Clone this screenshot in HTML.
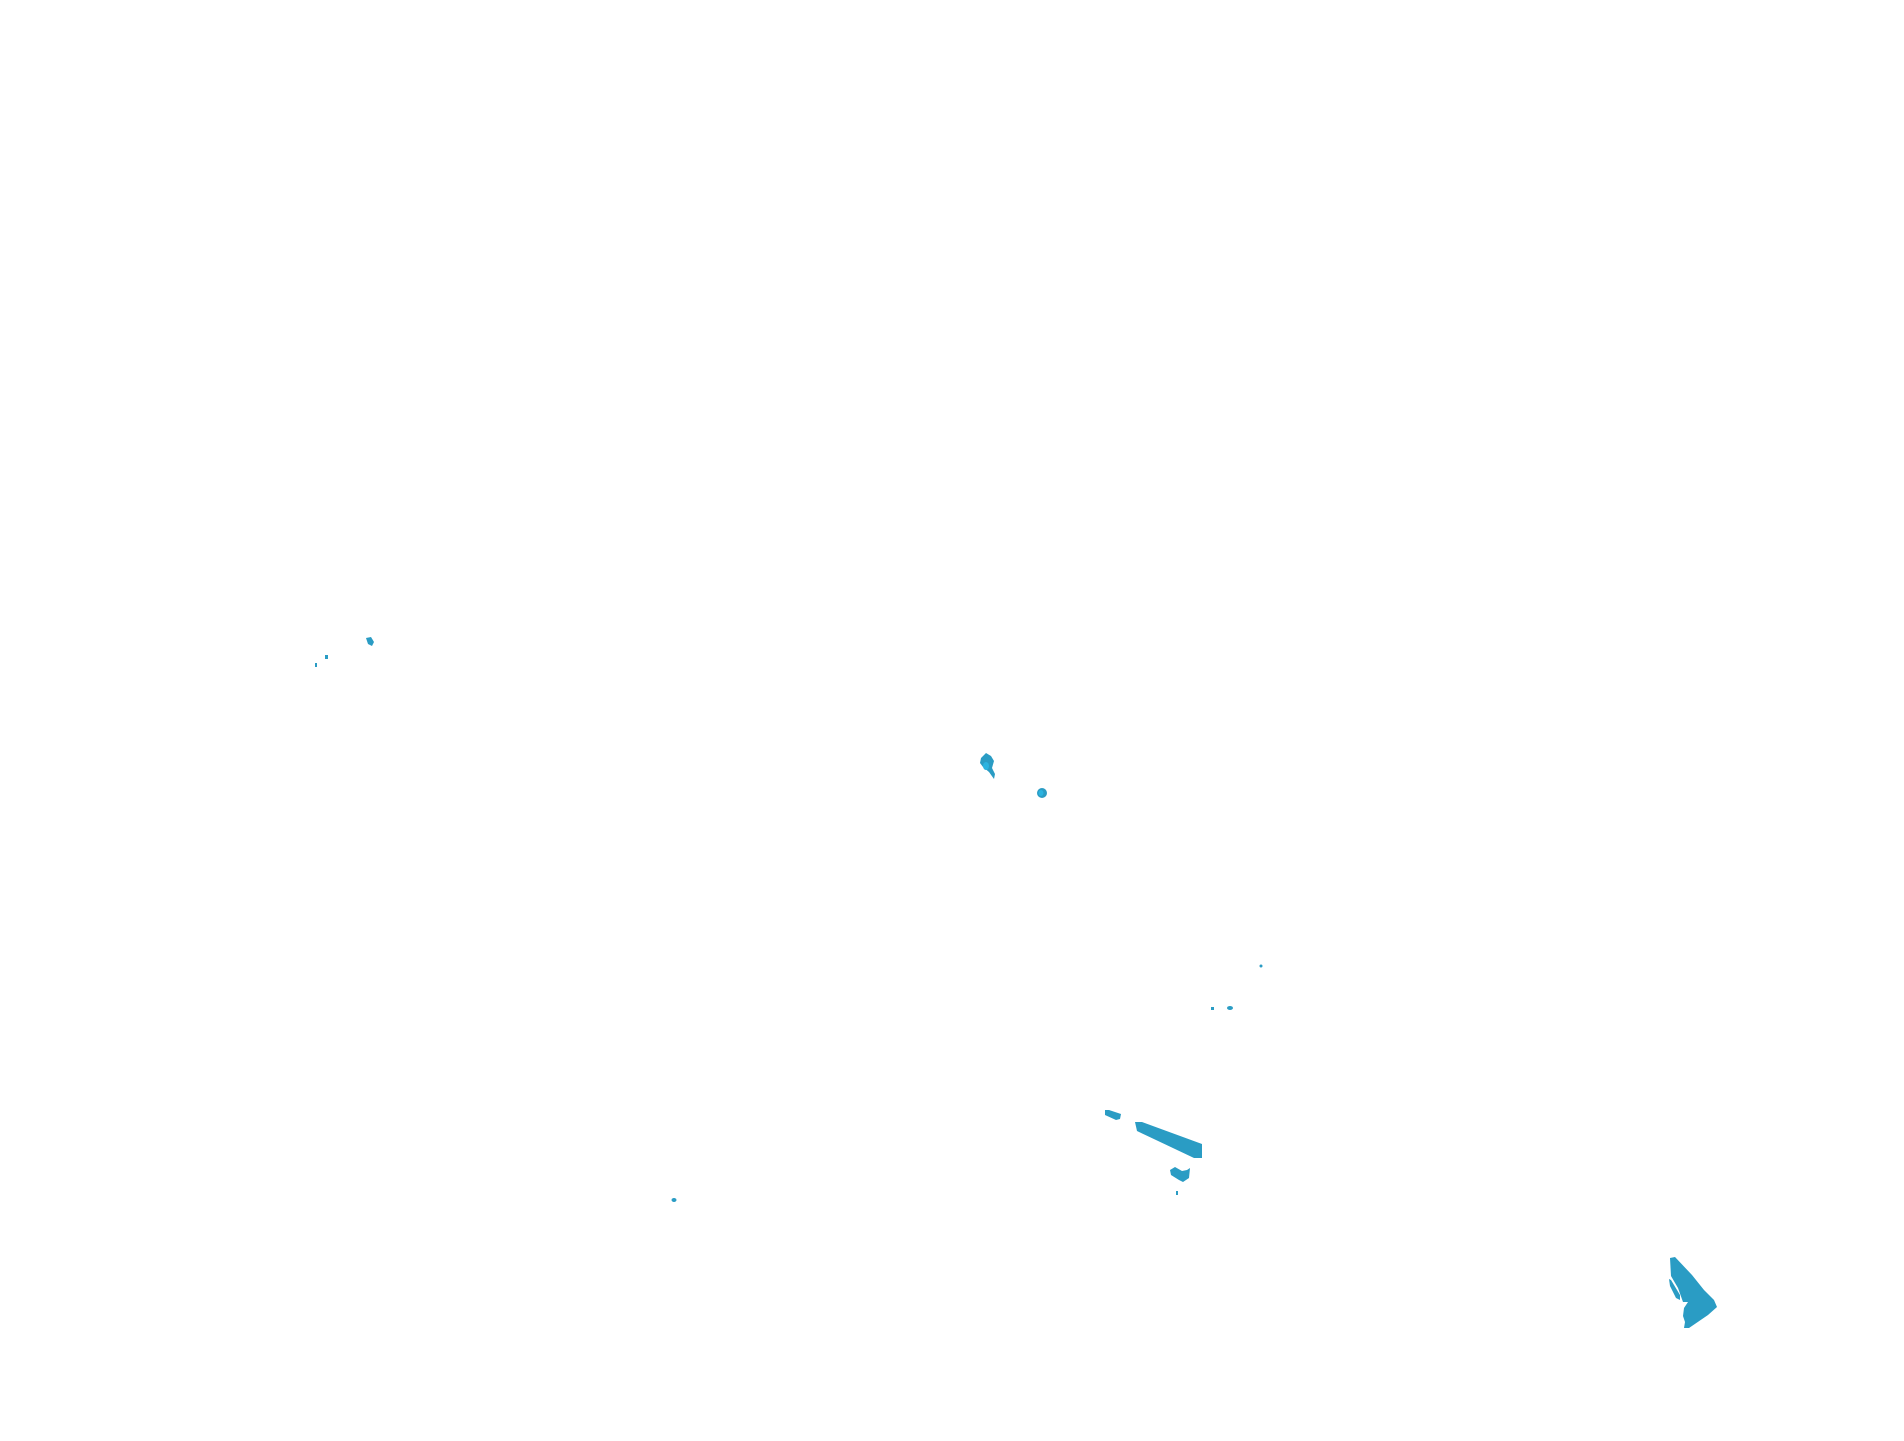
<!DOCTYPE html>
<html><head><meta charset="utf-8"><style>
html,body{margin:0;padding:0;background:#fff;width:1904px;height:1441px;overflow:hidden}
svg{display:block}
</style></head><body>
<svg width="1904" height="1441" viewBox="0 0 1904 1441" xmlns="http://www.w3.org/2000/svg">
<g fill="#2a9cc4">
<polygon points="366,638 371,637 374,642 372,646 368,644"/>
<rect x="325" y="655" width="3" height="4"/>
<rect x="315" y="663" width="2" height="4"/>
<polygon points="986,753 991,756 994,761 992,768 995,774 994,779 989,772 983,767 980,763 981,758"/>
<ellipse cx="1042" cy="793" rx="5" ry="5"/>
<ellipse cx="1261" cy="966" rx="1.5" ry="1.5"/>
<rect x="1211" y="1007" width="3" height="3"/>
<ellipse cx="1230" cy="1008" rx="3" ry="2"/>
<polygon points="1105,1110 1109,1110 1121,1114 1120,1119 1116,1120 1105,1115"/>
<polygon points="1135,1122 1142,1122 1202,1144 1202,1158 1194,1158 1137,1131"/>
<polygon points="1170,1170 1175,1167 1182,1171 1187,1170 1190,1168 1189,1178 1183,1182 1179,1180 1171,1175"/>
<rect x="1176" y="1191" width="2" height="4"/>
<ellipse cx="674" cy="1200" rx="2.5" ry="2"/>
<polygon points="1670,1258 1675,1257 1692,1275 1704,1290 1714,1300 1717,1307 1708,1315 1689,1328 1684,1328 1685,1322 1683,1316 1684,1308 1688,1302 1683,1302 1678,1288 1671,1276"/>
<polygon points="1669,1279 1671,1280 1680,1295 1680,1300 1676,1298 1670,1286"/>
</g>
<g fill="#2bb3e0">
<ellipse cx="986" cy="766" rx="3" ry="4"/>
<ellipse cx="1041" cy="793" rx="2.5" ry="3"/>
</g>
</svg>
</body></html>
